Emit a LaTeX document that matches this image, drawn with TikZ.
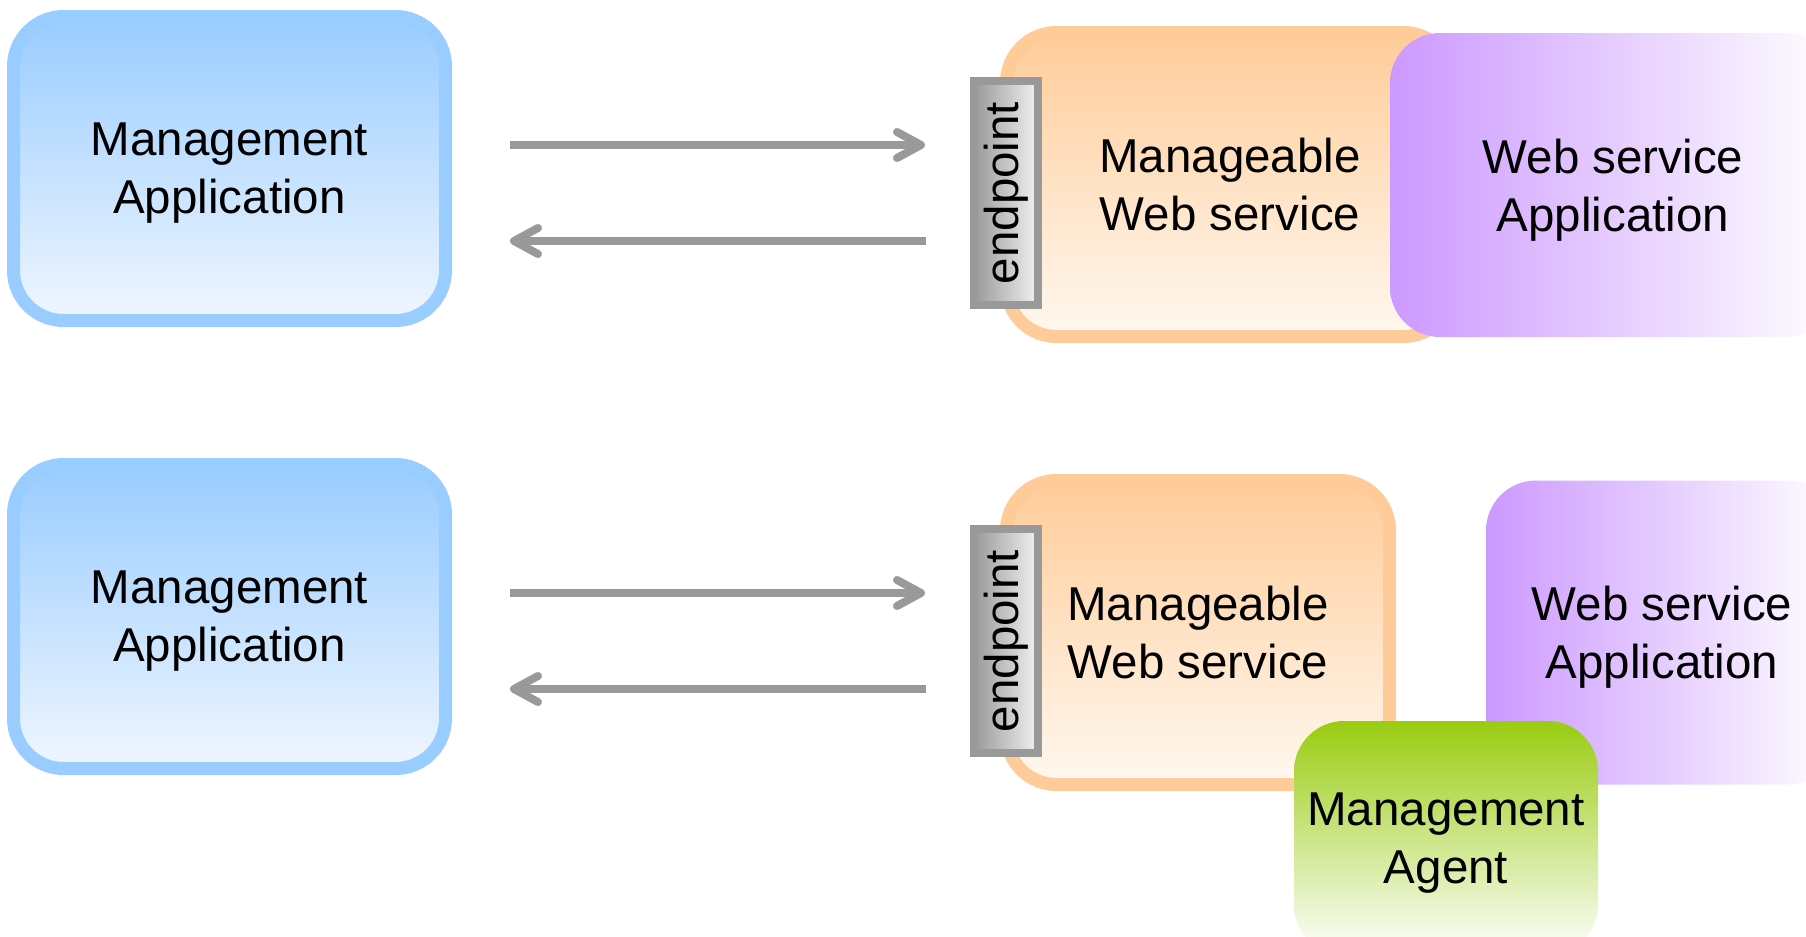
\documentclass[tikz,border=0pt]{standalone}
\usepackage{fontspec}
\setmainfont{Liberation Sans}
\usepackage{graphicx}
\usetikzlibrary{calc,arrows.meta}

\definecolor{mablue}{HTML}{99CCFF}
\definecolor{mabluelt}{HTML}{F0F6FF}
\definecolor{wsorange}{HTML}{FFCC99}
\definecolor{wsorangelt}{HTML}{FFF8F0}
\definecolor{wspurple}{HTML}{CC99FF}
\definecolor{agreen}{HTML}{99CC11}
\definecolor{epgray}{HTML}{999999}
\definecolor{eplight}{HTML}{F2F2F2}

\begin{document}
\begin{tikzpicture}[x=0.5pt,y=-0.5pt,
	every node/.style={align=center,inner sep=0pt,text depth=0pt,font=\fontsize{23.75}{29}\selectfont},
	box/.style={rounded corners=25pt,minimum height=152pt},
	mgmt/.style={box,draw=mablue,line width=6.5pt,top color=mablue,bottom color=mabluelt,minimum width=216pt},
	mws/.style={box,draw=wsorange,line width=6.5pt,top color=wsorange,bottom color=wsorangelt},
	wsapp/.style={box,left color=wspurple,right color=white},
	agent/.style={box,top color=agreen,bottom color=white,minimum width=152pt,minimum height=117pt},
	endpt/.style={draw=epgray,line width=4pt,left color=epgray,right color=eplight,minimum width=32pt,minimum height=112pt},
	flow/.style={draw=epgray,line width=4pt,-{Straight Barb[length=12pt,width=13pt,round]}}]
			\useasboundingbox (0,0) rectangle (1806,937);
			
			% direct access
			\node[mgmt] (ma1) at (229.5,168.5) {Management\\Application};
			\node[mws,minimum width=223.5pt] (mws1) at (1230,184.5) {Manageable\\Web service};
			\node[endpt] (ep1) at (1006,193) {\rotatebox{90}{endpoint}};
			\node[wsapp,minimum width=223pt] (wsa1) at (1613,185) {Web service\\Application};
			
			\draw[flow,shorten <=29pt,shorten >=22.5pt] ($(ma1.east |- ep1.west)+(0,-48)$) -- ($(ep1.west)+(0,-48)$);
			\draw[flow,shorten <=22pt,shorten >=29pt] ($(ep1.west)+(0,48)$) -- ($(ma1.east |- ep1.west)+(0,48)$);
			
			% through a management agent
			\node[mgmt] (ma2) at (229.5,616.5) {Management\\Application};
			\node[mws,minimum width=191.5pt] (mws2) at (1198,632.5) {Manageable\\Web service};
			\node[wsapp,minimum width=176pt] (wsa2) at (1662,632.5) {Web service\\Application};
			\node[endpt] (ep2) at (1006,641) {\rotatebox{90}{endpoint}};
			\node[agent] (agent) at (1446,838) {Management\\Agent};
			
			\draw[flow,shorten <=29pt,shorten >=22.5pt] ($(ma2.east |- ep2.west)+(0,-48)$) -- ($(ep2.west)+(0,-48)$);
			\draw[flow,shorten <=22pt,shorten >=29pt] ($(ep2.west)+(0,48)$) -- ($(ma2.east |- ep2.west)+(0,48)$);
\end{tikzpicture}
\end{document}
